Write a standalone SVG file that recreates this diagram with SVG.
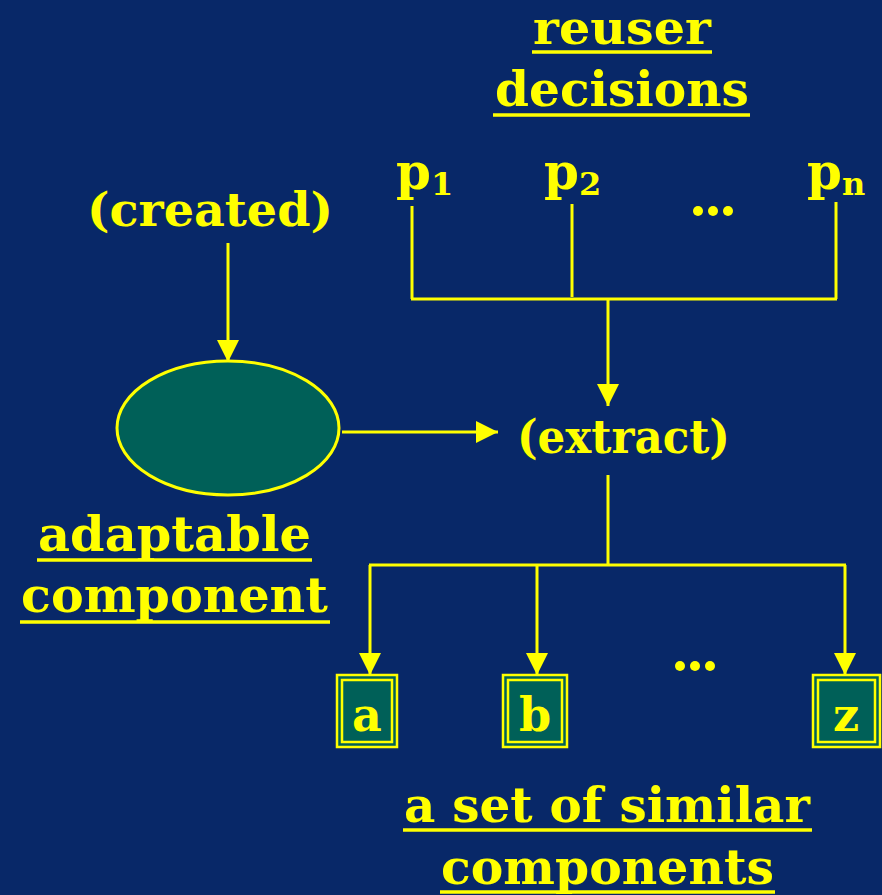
<svg xmlns="http://www.w3.org/2000/svg" width="882" height="895" viewBox="0 0 882 895">
<defs>
<style>
.t{font-family:"DejaVu Serif","Liberation Serif",serif;font-weight:bold;fill:#FFFF00;}
.ln{stroke:#FFFF00;stroke-width:3;fill:none;}
.ul{stroke:#FFFF00;stroke-width:3.5;}
.box{fill:#006058;stroke:#FFFF00;stroke-width:2.5;}
</style>
<marker id="ah" markerWidth="22" markerHeight="22" refX="22" refY="11" orient="auto" markerUnits="userSpaceOnUse">
<path d="M0,0 L22,11 L0,22 Z" fill="#FFFF00"/>
</marker>
</defs>
<rect width="882" height="895" fill="#082868"/>

<g id="connectors">
<line class="ln" x1="412" y1="206" x2="412" y2="299"/>
<line class="ln" x1="572" y1="204" x2="572" y2="297"/>
<line class="ln" x1="836" y1="202" x2="836" y2="299"/>
<line class="ln" x1="411" y1="299" x2="837" y2="299"/>
<line class="ln" x1="608" y1="299" x2="608" y2="406" marker-end="url(#ah)"/>
<line class="ln" x1="228" y1="243" x2="228" y2="362" marker-end="url(#ah)"/>
<line class="ln" x1="342" y1="432" x2="498" y2="432" marker-end="url(#ah)"/>
<line class="ln" x1="608" y1="475" x2="608" y2="565"/>
<line class="ln" x1="369" y1="565" x2="846" y2="565"/>
<line class="ln" x1="370" y1="565" x2="370" y2="675" marker-end="url(#ah)"/>
<line class="ln" x1="537" y1="565" x2="537" y2="675" marker-end="url(#ah)"/>
<line class="ln" x1="845" y1="565" x2="845" y2="675" marker-end="url(#ah)"/>
</g>

<g id="reuser-decisions">
<text class="t" x="533" y="44" font-size="47" textLength="178" lengthAdjust="spacingAndGlyphs">reuser</text>
<line class="ul" x1="532" y1="52" x2="712" y2="52"/>
<text class="t" x="495" y="106" font-size="48" textLength="254" lengthAdjust="spacingAndGlyphs">decisions</text>
<line class="ul" x1="493" y1="115" x2="750" y2="115"/>
</g>

<g id="params">
<text class="t" x="396" y="189" font-size="50">p<tspan font-size="32" dy="6">1</tspan></text>
<text class="t" x="544" y="189" font-size="50">p<tspan font-size="32" dy="6">2</tspan></text>
<text class="t" x="807" y="189" font-size="50">p<tspan font-size="32" dy="6">n</tspan></text>
<circle cx="698" cy="211" r="5" fill="#FFFF00"/>
<circle cx="713" cy="211" r="5" fill="#FFFF00"/>
<circle cx="728" cy="211" r="5" fill="#FFFF00"/>
</g>

<g id="created">
<text class="t" x="87" y="226" font-size="46" textLength="246" lengthAdjust="spacingAndGlyphs">(created)</text>
</g>

<g id="adaptable-component">
<ellipse cx="228" cy="428" rx="111" ry="67" fill="#006058" stroke="#FFFF00" stroke-width="3"/>
<text class="t" x="38" y="551" font-size="48" textLength="273" lengthAdjust="spacingAndGlyphs">adaptable</text>
<line class="ul" x1="37" y1="560" x2="312" y2="560"/>
<text class="t" x="21" y="612" font-size="48" textLength="307" lengthAdjust="spacingAndGlyphs">component</text>
<line class="ul" x1="20" y1="622" x2="330" y2="622"/>
</g>

<g id="extract">
<text class="t" x="517" y="453" font-size="46" textLength="213" lengthAdjust="spacingAndGlyphs">(extract)</text>
</g>

<g id="box-a">
<rect class="box" x="337" y="675" width="60" height="72"/>
<rect class="box" x="342" y="680" width="50" height="62"/>
<text class="t" x="367" y="731" font-size="46" text-anchor="middle">a</text>
</g>
<g id="box-b">
<rect class="box" x="503" y="675" width="64" height="72"/>
<rect class="box" x="508" y="680" width="54" height="62"/>
<text class="t" x="535" y="731" font-size="46" text-anchor="middle">b</text>
</g>
<g id="dots-boxes">
<circle cx="680" cy="666" r="5" fill="#FFFF00"/>
<circle cx="695" cy="666" r="5" fill="#FFFF00"/>
<circle cx="710" cy="666" r="5" fill="#FFFF00"/>
</g>
<g id="box-z">
<rect class="box" x="813" y="675" width="67" height="72"/>
<rect class="box" x="818" y="680" width="57" height="62"/>
<text class="t" x="846" y="731" font-size="46" text-anchor="middle">z</text>
</g>

<g id="similar-components">
<text class="t" x="404" y="822" font-size="48" textLength="406" lengthAdjust="spacingAndGlyphs">a set of similar</text>
<line class="ul" x1="403" y1="830" x2="812" y2="830"/>
<text class="t" x="441" y="884" font-size="48" textLength="333" lengthAdjust="spacingAndGlyphs">components</text>
<line class="ul" x1="440" y1="892" x2="775" y2="892"/>
</g>
</svg>
